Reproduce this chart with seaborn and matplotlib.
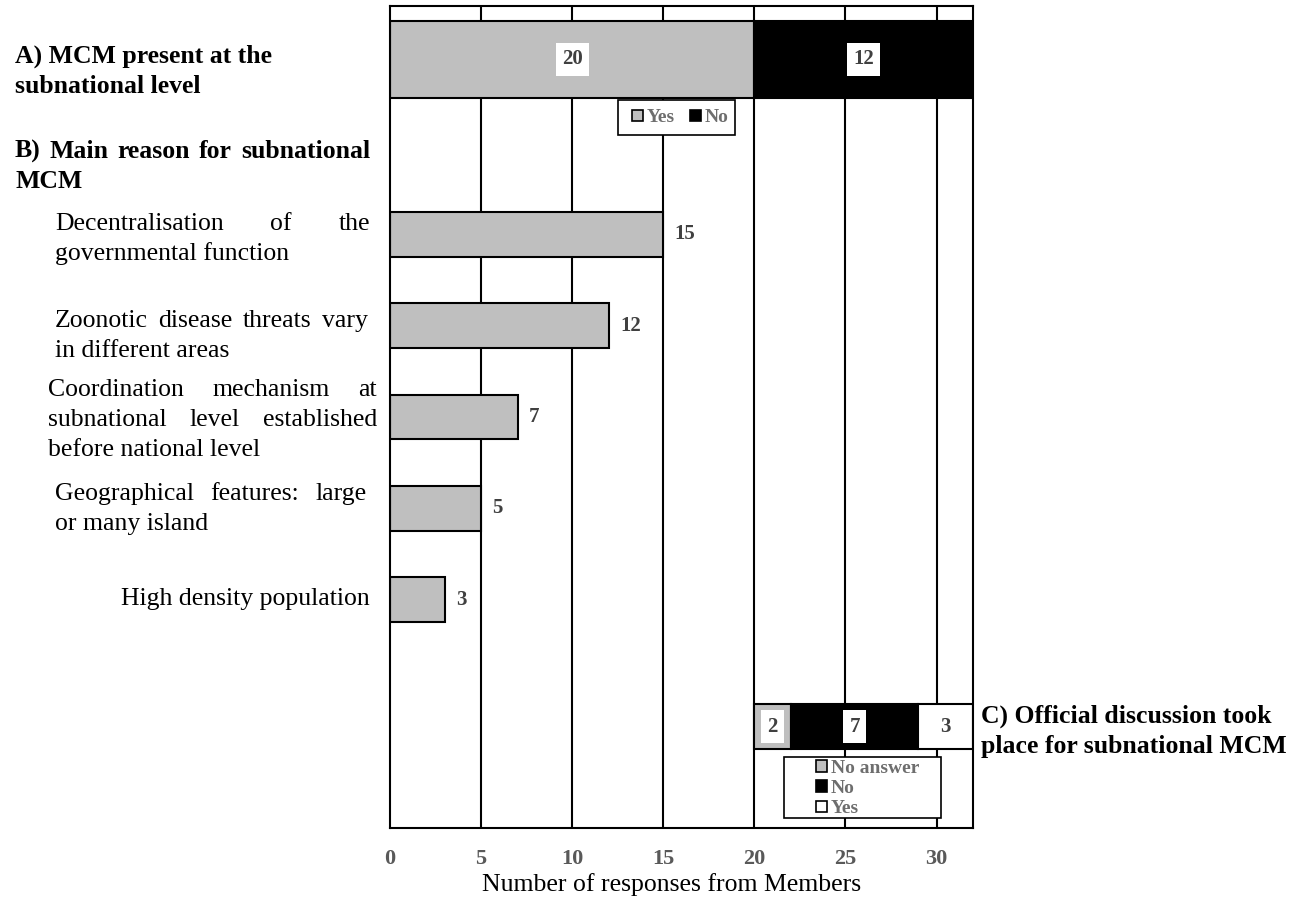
import matplotlib
matplotlib.use("Agg")
import matplotlib.pyplot as plt
from matplotlib.patches import Patch, Rectangle
import numpy as np
import pandas as pd
import seaborn as sns

# ---- data -------------------------------------------------------------
present_labels = ["Yes", "No"]
present_counts = [20, 12]

reason_labels = [
    "Decentralisation of the\ngovernmental function",
    "Zoonotic disease threats vary\nin different areas",
    "Coordination mechanism at\nsubnational level established\nbefore national level",
    "Geographical features: large\nor many island",
    "High density population",
]
reason_counts = [15, 12, 7, 5, 3]

discussion_labels = ["No answer", "No", "Yes"]
discussion_counts = [2, 7, 3]

x_ticks = [0, 5, 10, 15, 20, 25, 30]
x_max = 32

heading_a = "A) MCM present at the\nsubnational level"
heading_b = "B) Main reason for subnational\nMCM"
heading_c = "C) Official discussion took\nplace for subnational MCM"
x_title = "Number of responses from Members"

# ---- layout / style ---------------------------------------------------
W, H, DPI = 1304, 899, 100
GRAY = "#bfbfbf"
TICK_GRAY = "#595959"
VALUE_GRAY = "#404040"
LEGEND_GRAY = "#6e6e6e"

present_row, present_height = 0.585, 0.843
reason_rows = [2.5, 3.5, 4.5, 5.5, 6.5]
discussion_row, discussion_height = 7.89, 0.49
discussion_start = 20

sns.set_theme(style="white")
plt.rcParams["font.family"] = ["Liberation Serif", "DejaVu Serif"]

fig = plt.figure(figsize=(W / DPI, H / DPI), dpi=DPI)
ax = fig.add_axes([390 / W, 1 - 828 / H, (973 - 390) / W, (828 - 6) / H])

# vertical grid lines sit under the bars
for xv in x_ticks[1:]:
    ax.axvline(xv, color="black", lw=1.5, zorder=0.5)

# B) reasons
reasons_df = pd.DataFrame({"reason": reason_labels, "count": reason_counts,
                           "row": reason_rows})
sns.barplot(data=reasons_df, x="count", y="row", orient="h", native_scale=True,
            color=GRAY, saturation=1, edgecolor="black", linewidth=1.5,
            width=0.49, errorbar=None, ax=ax, zorder=2)

for r, c in zip(reason_rows, reason_counts):
    ax.text(c + 0.62, r, str(c), ha="left", va="center", fontsize=15,
            fontweight="bold", color=VALUE_GRAY, zorder=6)


def stacked(row, height, counts, colors, start=0):
    lefts = start + np.concatenate([[0], np.cumsum(counts)[:-1]])
    for left, c, col in zip(lefts, counts, colors):
        ax.barh(row, c, left=left, height=height, color=col,
                edgecolor="black", linewidth=1.5, zorder=2)
        ax.text(left + c / 2, row, str(c), ha="center", va="center",
                fontsize=15, fontweight="bold", color=VALUE_GRAY, zorder=6,
                bbox=dict(boxstyle="square,pad=0.3", fc="white", ec="none"))


# A) MCM present
stacked(present_row, present_height, present_counts, [GRAY, "black"])
# C) official discussion
stacked(discussion_row, discussion_height, discussion_counts,
        [GRAY, "black", "white"], start=discussion_start)

ax.set_xlim(0, x_max)
ax.set_ylim(9, 0)
ax.set_xticks(x_ticks)
ax.set_xticklabels([str(t) for t in x_ticks], fontsize=16, fontweight="bold",
                   color=TICK_GRAY)
ax.tick_params(axis="x", length=0, pad=15)
ax.set_yticks([])
ax.set_xlabel("")
ax.set_ylabel("")
for s in ax.spines.values():
    s.set_visible(True)
    s.set_color("black")
    s.set_linewidth(1.5)
    s.set_zorder(7)


# legends with plain square frames
def boxed_legend(labels, colors, box, anchor, ncol, spacing, colspace):
    x0, y0, x1, y1 = box
    ax.add_patch(Rectangle((x0 / W, 1 - y1 / H), (x1 - x0) / W, (y1 - y0) / H,
                           transform=fig.transFigure, fc="white", ec="black",
                           lw=1.2, zorder=8, clip_on=False))
    handles = [Patch(facecolor=c, edgecolor="black", linewidth=1.2)
               for c in colors]
    leg = ax.legend(handles, labels, loc="center left",
                    bbox_to_anchor=(anchor[0] / W, 1 - anchor[1] / H),
                    bbox_transform=fig.transFigure, ncol=ncol, frameon=False,
                    borderpad=0, borderaxespad=0, handlelength=0.55,
                    handleheight=0.55, handletextpad=0.2,
                    columnspacing=colspace, labelspacing=spacing,
                    prop={"size": 14, "weight": "bold"})
    for t in leg.get_texts():
        t.set_color(LEGEND_GRAY)
    leg.set_zorder(9)
    return leg


leg_a = boxed_legend(present_labels, [GRAY, "black"], (618, 100, 735, 135),
                     (632, 118), 2, 0.1, 0.8)
ax.add_artist(leg_a)
boxed_legend(discussion_labels, [GRAY, "black", "white"], (784, 757, 941, 818),
             (816, 788.5), 1, 0.17, 0.5)

# ---- side text --------------------------------------------------------
renderer = fig.canvas.get_renderer()
LINE = 30


def paragraph(text, x0, x1, baseline, align, **kw):
    lines = text.split("\n")
    for i, line in enumerate(lines):
        y = 1 - (baseline + i * LINE) / H
        last = i == len(lines) - 1
        if align == "right":
            fig.text(x1 / W, y, line, ha="right", va="baseline", **kw)
        elif align == "left" or last:
            fig.text(x0 / W, y, line, ha="left", va="baseline", **kw)
        else:
            words = line.split()
            ts = [fig.text(0, y, w, ha="left", va="baseline", **kw)
                  for w in words]
            widths = [t.get_window_extent(renderer).width for t in ts]
            gap = (x1 - x0 - sum(widths)) / max(len(words) - 1, 1)
            x = x0
            for t, w in zip(ts, widths):
                t.set_x(x / W)
                x += w + gap


bold = dict(fontsize=18.5, fontweight="bold", color="black")
norm = dict(fontsize=18.5, color="black")

paragraph(heading_a, 15, 370, 63, "left", **bold)
paragraph(heading_b, 15, 370, 158, "justify", **bold)

reason_text_pos = [
    (55, 370, 230, "justify"),
    (55, 368, 327, "justify"),
    (48, 377, 396, "justify"),
    (55, 367, 500, "justify"),
    (55, 370, 605, "right"),
]
for lab, (x0, x1, b, al) in zip(reason_labels, reason_text_pos):
    paragraph(lab, x0, x1, b, al, **norm)

paragraph(heading_c, 981, 1300, 723, "left", **bold)

fig.text(672 / W, 1 - 885 / H, x_title, ha="center", va="center",
         fontsize=18.5, color="black")

fig.savefig("out.png", dpi=DPI)
